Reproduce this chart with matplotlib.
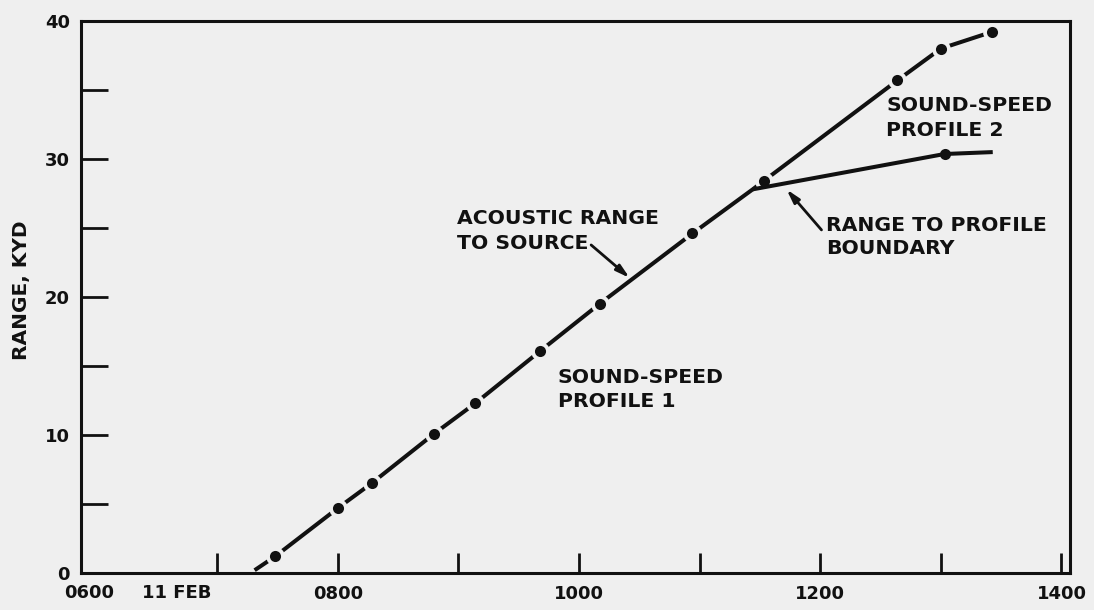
import matplotlib
matplotlib.use("Agg")
import matplotlib.pyplot as plt
from matplotlib.ticker import FixedLocator, NullFormatter

# ---- data (time in hours of 11 FEB, range in kyd) ----
acoustic_time = [7.31, 7.48, 8.00, 8.28, 8.80, 9.14, 9.68, 10.17, 10.94, 11.44, 11.53, 12.64, 13.00, 13.42]
acoustic_range = [0.2, 1.2, 4.7, 6.5, 10.1, 12.3, 16.1, 19.5, 24.6, 27.8, 28.4, 35.7, 38.0, 39.2]
acoustic_dot = [False, True, True, True, True, True, True, True, True, False, True, True, True, True]

boundary_time = [11.44, 13.03, 13.43]
boundary_range = [27.8, 30.36, 30.5]
boundary_dot = [False, True, False]

x_major = [7, 8, 9, 10, 11, 12, 13, 14]
x_labels = ["", "0800", "", "1000", "", "1200", "", "1400"]
y_major = [0, 10, 20, 30, 40]
y_minor = [5, 15, 25, 35]

BG = "#efefef"
INK = "#111111"
FONT = ["DejaVu Sans"]

fig = plt.figure(figsize=(10.94, 6.10), dpi=100, facecolor=BG)
ax = fig.add_axes([0.074, 0.0607, 0.904, 0.9049])
ax.set_facecolor(BG)
ax.set_xlim(5.87, 14.07)
ax.set_ylim(0, 40)

for s in ax.spines.values():
    s.set_linewidth(2.2)
    s.set_color(INK)

# acoustic range line with gaps around dots
ax.plot(acoustic_time, acoustic_range, color=INK, lw=2.9, solid_capstyle="butt", zorder=2)
dx = [t for t, d in zip(acoustic_time, acoustic_dot) if d]
dy = [r for r, d in zip(acoustic_range, acoustic_dot) if d]
ax.plot(dx, dy, ls="none", marker="o", ms=13.5, mfc=BG, mec=BG, mew=0, zorder=3)

# boundary line
ax.plot(boundary_time, boundary_range, color=INK, lw=2.9, solid_capstyle="butt", zorder=4)
bx = [t for t, d in zip(boundary_time, boundary_dot) if d]
by = [r for r, d in zip(boundary_range, boundary_dot) if d]

ax.plot(dx, dy, ls="none", marker="o", ms=8.0, mfc=INK, mec=INK, mew=0, zorder=5)
ax.plot(bx, by, ls="none", marker="o", ms=8.0, mfc=INK, mec=INK, mew=0, zorder=5)

# ticks
ax.xaxis.set_major_locator(FixedLocator(x_major))
ax.set_xticklabels(x_labels)
ax.yaxis.set_major_locator(FixedLocator(y_major))
ax.yaxis.set_minor_locator(FixedLocator(y_minor))
ax.yaxis.set_minor_formatter(NullFormatter())
ax.tick_params(axis="x", direction="in", length=14.4, width=2.0, color=INK, pad=9,
               labelsize=13, labelcolor=INK)
ax.tick_params(axis="y", which="both", direction="in", length=19.5, width=2.0, color=INK,
               pad=8, labelsize=13, labelcolor=INK)
for lab in ax.get_xticklabels() + ax.get_yticklabels():
    lab.set_family(FONT)
    lab.set_fontweight("bold")

tk = dict(family=FONT, fontweight="bold", fontsize=13, color=INK)
ax.text(5.94, -0.036, "0600", transform=ax.get_xaxis_transform(), ha="center", va="center", **tk)
ax.text(6.667, -0.036, "11 FEB", transform=ax.get_xaxis_transform(), ha="center", va="center", **tk)

fig.text(22 / 1094, 1 - 290 / 610, "RANGE, KYD", rotation=90, ha="center", va="center",
         family=FONT, fontweight="bold", fontsize=14.5, color=INK)

# annotations
an = dict(family=FONT, fontweight="bold", fontsize=14.7, color=INK, ha="left", va="center")
ax.text(8.986, 25.72, "ACOUSTIC RANGE", **an)
ax.text(8.986, 23.9, "TO SOURCE", **an)
ax.text(9.823, 14.2, "SOUND-SPEED", **an)
ax.text(9.823, 12.4, "PROFILE 1", **an)
ax.text(12.548, 33.85, "SOUND-SPEED", **an)
ax.text(12.548, 32.1, "PROFILE 2", **an)
ax.text(12.05, 25.2, "RANGE TO PROFILE", **an)
ax.text(12.05, 23.5, "BOUNDARY", **an)

arrow = dict(arrowstyle="-|>,head_length=0.8,head_width=0.22", color=INK, lw=2.0, shrinkA=0, shrinkB=0)
ax.annotate("", xy=(10.42, 21.38), xytext=(10.10, 23.77), arrowprops=arrow, zorder=6)
ax.annotate("", xy=(11.72, 27.80), xytext=(12.01, 24.86), arrowprops=arrow, zorder=6)

fig.savefig("out.png", dpi=100, facecolor=BG)
